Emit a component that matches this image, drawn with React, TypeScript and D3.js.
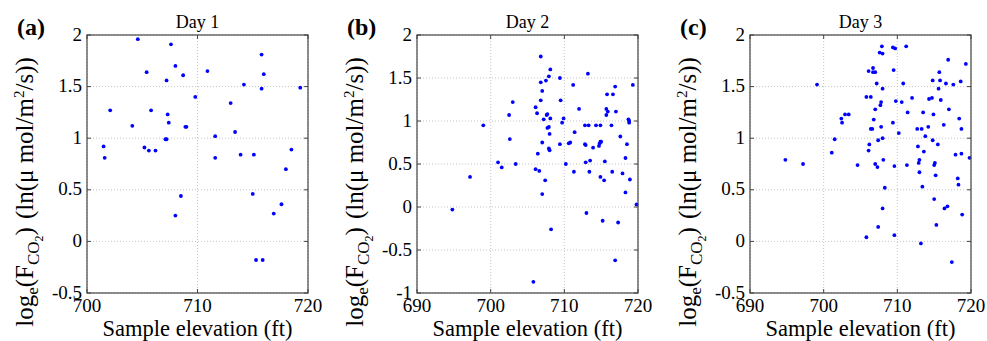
import React from "react";
import * as d3 from "d3";

const panelLabels = ["(a)", "(b)", "(c)"];
const panelTitles = ["Day 1", "Day 2", "Day 3"];
const xTickSets = [[700, 710, 720], [690, 700, 710, 720], [690, 700, 710, 720]];
const yTickSets = [
  [-0.5, 0, 0.5, 1, 1.5, 2],
  [-1, -0.5, 0, 0.5, 1, 1.5, 2],
  [-0.5, 0, 0.5, 1, 1.5, 2],
];
const xDomains = [[700, 720], [690, 720], [690, 720]];
const yDomains = [[-0.5, 2], [-1, 2], [-0.5, 2]];

const day1X = [701.5, 701.6, 702.1, 704.1, 704.6, 705.2, 705.4, 705.6, 705.8, 706.2, 707.2, 707.1, 707.2, 707.3, 707.4, 707.6, 708.0, 708.0, 708.5, 708.7, 708.9, 709.0, 709.8, 710.9, 711.6, 711.6, 713.0, 713.4, 713.9, 714.2, 715.1, 715.0, 715.3, 715.8, 715.8, 715.9, 716.0, 716.9, 717.6, 718.0, 718.5, 719.3];
const day1Y = [0.92, 0.81, 1.27, 1.12, 1.96, 0.91, 1.64, 0.88, 1.27, 0.88, 1.56, 0.99, 0.99, 1.23, 1.15, 1.91, 1.7, 0.25, 0.44, 1.61, 1.11, 1.11, 1.4, 1.65, 1.02, 0.81, 1.34, 1.06, 0.84, 1.52, 0.84, 0.46, -0.18, 1.81, 1.48, -0.18, 1.62, 0.27, 0.36, 0.7, 0.89, 1.49];

const day2X = [694.8, 697.2, 699.0, 701.0, 701.5, 702.5, 702.6, 703.0, 703.4, 705.8, 706.1, 706.1, 706.3, 706.4, 706.6, 706.8, 706.8, 706.8, 707.0, 707.0, 707.0, 707.2, 707.4, 707.5, 707.6, 707.7, 707.7, 707.9, 707.9, 707.9, 708.0, 708.0, 708.1, 708.1, 708.2, 709.4, 709.4, 709.5, 709.7, 709.9, 710.2, 710.6, 710.8, 711.2, 711.3, 711.4, 712.0, 712.8, 712.9, 712.8, 712.9, 713.0, 713.2, 713.3, 713.4, 713.5, 713.9, 714.3, 714.7, 714.8, 714.9, 714.9, 714.9, 715.0, 715.2, 715.4, 715.5, 715.7, 715.7, 715.8, 715.9, 716.4, 716.5, 716.6, 716.9, 716.9, 717.0, 717.3, 717.6, 717.9, 718.3, 718.3, 718.5, 718.7, 718.8, 718.9, 718.8, 719.3, 719.8];
const day2Y = [-0.03, 0.35, 0.95, 0.52, 0.46, 1.07, 0.79, 1.22, 0.5, -0.87, 1.16, 0.44, 1.09, 0.62, 0.42, 1.45, 1.75, 1.24, 0.75, 1.35, 0.15, 1.02, 0.31, 1.47, 1.07, 1.08, 0.92, 0.68, 1.52, 0.93, 0.66, 0.85, 1.6, 1.03, -0.26, 1.5, 0.73, 1.24, 0.98, 1.03, 0.5, 0.74, 0.75, 1.42, 0.41, 0.87, 1.14, 0.73, 0.72, 0.95, 0.52, -0.07, 1.55, 0.95, 0.41, 0.54, 0.69, 0.95, 0.71, 0.74, 0.76, 0.95, 0.35, 0.76, -0.16, 0.31, 0.53, 1.14, 1.07, 1.31, 1.11, 0.95, 0.41, 1.31, 1.4, -0.62, 1.11, -0.18, 0.82, 0.39, 0.57, 0.17, 0.73, 1.02, 1.0, 0.32, 0.98, 1.42, 0.03];

const day3X = [694.8, 697.2, 699.1, 701.1, 701.5, 702.4, 702.5, 702.9, 703.4, 704.6, 705.8, 705.8, 706.1, 706.1, 706.2, 706.4, 706.4, 706.6, 706.7, 706.7, 706.8, 707.0, 707.0, 707.0, 707.2, 707.3, 707.4, 707.4, 707.6, 707.7, 707.8, 707.8, 707.9, 708.0, 708.0, 708.0, 708.0, 708.1, 708.3, 709.4, 709.4, 709.5, 709.6, 709.6, 709.7, 709.8, 710.2, 710.6, 710.8, 711.2, 711.3, 711.4, 712.0, 712.7, 712.8, 712.9, 713.0, 713.0, 713.2, 713.3, 713.4, 713.5, 713.6, 713.8, 714.2, 714.3, 714.7, 714.8, 714.8, 714.9, 715.0, 715.0, 715.1, 715.2, 715.3, 715.5, 715.6, 715.7, 715.8, 715.9, 716.3, 716.4, 716.6, 716.8, 716.9, 717.0, 717.4, 717.6, 717.9, 718.2, 718.3, 718.4, 718.6, 718.7, 718.7, 718.8, 719.3, 719.8];
const day3Y = [0.79, 0.75, 1.52, 0.86, 0.99, 1.19, 1.15, 1.23, 1.23, 0.74, 0.04, 1.4, 1.65, 0.88, 0.94, 1.4, 1.09, 1.09, 1.68, 1.64, 1.18, 1.64, 1.28, 0.75, 1.53, 0.72, 0.14, 0.98, 1.83, 1.32, 1.35, 1.11, 1.89, 1.0, 1.82, 1.48, 0.32, 0.79, 0.52, 1.88, 1.15, 1.66, 0.73, 0.06, 1.87, 1.36, 1.05, 1.35, 1.53, 1.89, 0.74, 1.25, 1.39, 1.09, 0.92, 0.76, 0.79, 0.67, -0.02, 1.09, 0.53, 1.25, 0.87, 1.02, 1.11, 1.38, 1.39, 1.56, 0.98, 1.23, 0.41, 0.74, 0.76, 0.64, 0.16, 0.94, 1.48, 1.64, 1.56, 1.37, 1.13, 0.32, 1.53, 0.34, 1.76, 1.28, -0.2, 1.52, 0.84, 0.61, 0.55, 1.19, 1.55, 0.85, 1.09, 0.26, 1.72, 0.81];

const xSeries = [day1X, day2X, day3X];
const ySeries = [day1Y, day2Y, day3Y];

const W = 987;
const H = 341;
const panelLefts = [87, 417, 750];
const plotW = 221;
const top = 35;
const bottom = 293;
const FONT = "Liberation Serif";

function Panel({ i }: { i: number }) {
  const left = panelLefts[i];
  const x = d3.scaleLinear().domain(xDomains[i]).range([left, left + plotW]);
  const y = d3.scaleLinear().domain(yDomains[i]).range([bottom, top]);
  const xs = xSeries[i];
  const ys = ySeries[i];
  const tk = 4;
  const txt = { fontFamily: FONT, fill: "#000" } as React.CSSProperties;
  return (
    <g>
      {xTickSets[i].map((t) => (
        <line key={"gx" + t} x1={x(t)} x2={x(t)} y1={top} y2={bottom} stroke="#c4c4c4" strokeWidth={1} strokeDasharray="1,2" />
      ))}
      {yTickSets[i].map((t) => (
        <line key={"gy" + t} x1={left} x2={left + plotW} y1={y(t)} y2={y(t)} stroke="#c4c4c4" strokeWidth={1} strokeDasharray="1,2" />
      ))}
      {xs.map((v, k) => (
        <circle key={"p" + k} cx={x(v)} cy={y(ys[k])} r={1.9} fill="#0000ff" />
      ))}
      {xTickSets[i].map((t) => (
        <g key={"tx" + t}>
          <line x1={x(t)} x2={x(t)} y1={bottom} y2={bottom - tk} stroke="#444" strokeWidth={1} />
          <line x1={x(t)} x2={x(t)} y1={top} y2={top + tk} stroke="#444" strokeWidth={1} />
          <text x={x(t)} y={312} textAnchor="middle" fontSize={19} style={txt}>
            {t}
          </text>
        </g>
      ))}
      {yTickSets[i].map((t) => (
        <g key={"ty" + t}>
          <line x1={left} x2={left + tk} y1={y(t)} y2={y(t)} stroke="#444" strokeWidth={1} />
          <line x1={left + plotW} x2={left + plotW - tk} y1={y(t)} y2={y(t)} stroke="#444" strokeWidth={1} />
          <text x={left - 5} y={y(t) + 5.5} textAnchor="end" fontSize={19} style={txt}>
            {String(t)}
          </text>
        </g>
      ))}
      <rect x={left} y={top} width={plotW} height={bottom - top} fill="none" stroke="#444" strokeWidth={1.2} />
      <text x={left + plotW / 2} y={28} textAnchor="middle" fontSize={18} style={txt}>
        {panelTitles[i]}
      </text>
      <text x={left - 70} y={35} fontSize={24} fontWeight="bold" style={txt}>
        {panelLabels[i]}
      </text>
      <text x={left + plotW / 2} y={335.5} textAnchor="middle" fontSize={22.5} style={txt}>
        Sample elevation (ft)
      </text>
      <text
        transform={`translate(${left - 54},192) rotate(-90)`}
        textAnchor="middle"
        fontSize={25}
        style={txt}
      >
        <tspan>log</tspan>
        <tspan fontSize={17} dy={5}>e</tspan>
        <tspan dy={-5}>(F</tspan>
        <tspan fontSize={17} dy={6}>CO</tspan>
        <tspan fontSize={12} dy={4}>2</tspan>
        <tspan dy={-10}>)</tspan>
        <tspan dx={8}>(ln(μ mol/m</tspan>
        <tspan fontSize={15} dy={-9}>2</tspan>
        <tspan dy={9}>/s))</tspan>
      </text>
    </g>
  );
}

export default function App() {
  return (
    <svg
      width={W}
      height={H}
      viewBox={`0 0 ${W} ${H}`}
      style={{ position: "absolute", left: 0, top: 0, background: "#fff" }}
    >
      <rect x={0} y={0} width={W} height={H} fill="#fff" />
      {[0, 1, 2].map((i) => (
        <Panel key={i} i={i} />
      ))}
    </svg>
  );
}
